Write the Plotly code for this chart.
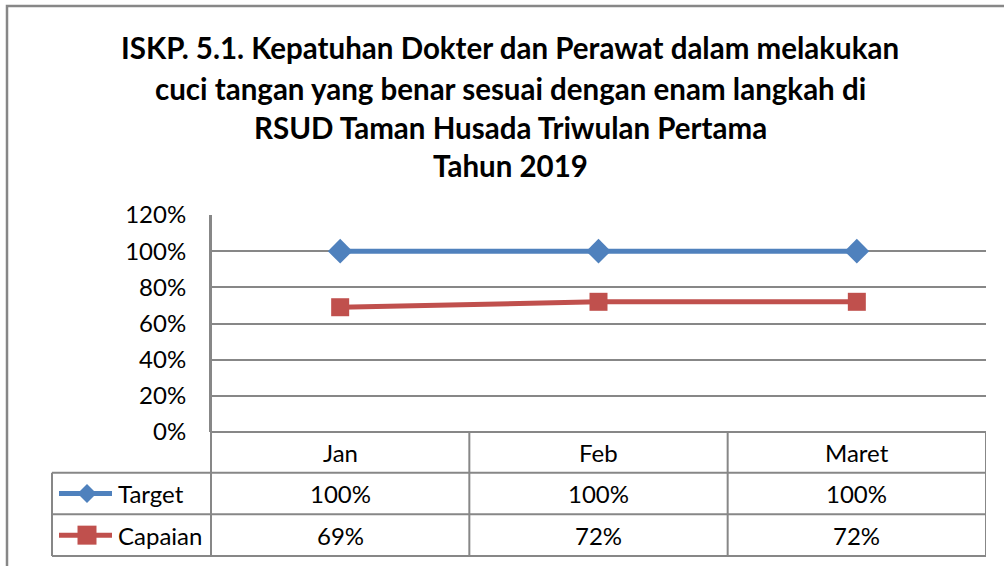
import plotly.graph_objects as go

# ---------------- data ----------------
categories = ["Jan", "Feb", "Maret"]
target = [100, 100, 100]
capaian = [69, 72, 72]
series_names = ["Target", "Capaian"]
y_ticks = [0, 20, 40, 60, 80, 100, 120]
title_lines = [
    "ISKP. 5.1. Kepatuhan Dokter dan Perawat dalam melakukan",
    "cuci tangan yang benar sesuai dengan enam langkah di",
    "RSUD Taman Husada Triwulan Pertama",
    "Tahun 2019",
]

# ---------------- layout geometry (pixels) ----------------
W, H = 1004, 566
L, R, T, B = 211, 986, 215, 432
FONT = "Lato"
GRID = "#878787"
BLUE = "#4F81BD"
RED = "#C0504D"
TXT = 24


def xp(px):
    return (px - L) / (R - L)


def yp(py):
    return (B - py) / (B - T)


fig = go.Figure()
fig.add_trace(go.Scatter(
    x=list(range(len(categories))), y=target, name=series_names[0],
    mode="lines+markers", line=dict(color=BLUE, width=5),
    marker=dict(symbol="diamond", size=19, color=BLUE), showlegend=False))
fig.add_trace(go.Scatter(
    x=list(range(len(categories))), y=capaian, name=series_names[1],
    mode="lines+markers", line=dict(color=RED, width=5),
    marker=dict(symbol="square", size=18, color=RED), showlegend=False))

shapes = []
annotations = []

# outer chart border
shapes.append(dict(type="rect", xref="paper", yref="paper",
                   x0=xp(7), x1=xp(1012), y0=yp(6), y1=yp(580),
                   line=dict(color=GRID, width=2.5), layer="below"))

# data table lines
row_lines = [472.7, 514.3, 556]
for ry in row_lines:
    shapes.append(dict(type="line", xref="paper", yref="paper",
                       x0=xp(52), x1=1, y0=yp(ry), y1=yp(ry),
                       line=dict(color=GRID, width=2)))
shapes.append(dict(type="line", xref="paper", yref="paper",
                   x0=0, x1=1, y0=0, y1=0, line=dict(color=GRID, width=2)))
# vertical lines
shapes.append(dict(type="line", xref="paper", yref="paper",
                   x0=xp(52), x1=xp(52), y0=yp(472.7), y1=yp(556),
                   line=dict(color=GRID, width=2)))
shapes.append(dict(type="line", xref="paper", yref="paper",
                   x0=0, x1=0, y0=1, y1=yp(556),
                   line=dict(color=GRID, width=2)))
for i in range(1, len(categories) + 1):
    xb = i - 0.5
    shapes.append(dict(type="line", xref="x", yref="paper",
                       x0=xb, x1=xb, y0=0, y1=yp(556),
                       line=dict(color=GRID, width=2)))

# table texts
cat_row_y = yp((432 + 472.7) / 2)
row_ys = [yp((472.7 + 514.3) / 2), yp((514.3 + 556) / 2)]
for i, c in enumerate(categories):
    annotations.append(dict(x=i, y=cat_row_y, xref="x", yref="paper", text=c,
                            xanchor="center", yanchor="middle",
                            showarrow=False, font=dict(family=FONT, size=TXT, color="black")))
for vals, ry in zip([target, capaian], row_ys):
    for i, v in enumerate(vals):
        annotations.append(dict(x=i, y=ry, xref="x", yref="paper", text=f"{v}%",
                                xanchor="center", yanchor="middle",
                                showarrow=False, font=dict(family=FONT, size=TXT, color="black")))

# legend keys inside table
colors = [BLUE, RED]
for name, col, ry, kind in zip(series_names, colors, row_ys, ["diamond", "square"]):
    shapes.append(dict(type="line", xref="paper", yref="paper",
                       x0=xp(59), x1=xp(112), y0=ry, y1=ry,
                       line=dict(color=col, width=5)))
    cx = xp(87)
    d = 9.5
    dy = d / (B - T)
    if kind == "diamond":
        path = (f"M {xp(87 - d)} {ry} L {cx} {ry + dy} "
                f"L {xp(87 + d)} {ry} L {cx} {ry - dy} Z")
    else:
        path = (f"M {xp(87 - d)} {ry - dy} L {xp(87 + d)} {ry - dy} "
                f"L {xp(87 + d)} {ry + dy} L {xp(87 - d)} {ry + dy} Z")
    shapes.append(dict(type="path", xref="paper", yref="paper", path=path,
                       fillcolor=col, line=dict(color=col, width=0)))
    annotations.append(dict(x=xp(116), y=ry, xref="paper", yref="paper", text=name,
                            xanchor="left", yanchor="middle", showarrow=False,
                            font=dict(family=FONT, size=TXT, color="black")))

# title lines
for line, cy in zip(title_lines, [48, 88, 127, 165]):
    annotations.append(dict(x=xp(510), y=yp(cy), xref="paper", yref="paper",
                            text=f"<b>{line}</b>", showarrow=False,
                            xanchor="center", yanchor="middle",
                            font=dict(family=FONT, size=29.5, color="black")))

fig.update_layout(
    width=W, height=H,
    margin=dict(l=L, r=W - R, t=T, b=H - B, pad=0),
    paper_bgcolor="white", plot_bgcolor="white",
    shapes=shapes, annotations=annotations,
    xaxis=dict(range=[-0.5, len(categories) - 0.5], showticklabels=False,
               showgrid=False, zeroline=False, showline=False, fixedrange=True),
    yaxis=dict(range=[0, 120], tickvals=y_ticks, ticktext=[f"{t}%" for t in y_ticks],
               showgrid=True, gridcolor=GRID, gridwidth=2, zeroline=False,
               showline=True, linecolor=GRID, linewidth=2,
               ticks="outside", ticklen=18, tickcolor="rgba(0,0,0,0)",
               tickfont=dict(family=FONT, size=TXT, color="black"), fixedrange=True),
)

fig.write_html("out.html", config={"displayModeBar": False},
               post_script="document.body.style.margin='0';document.body.style.overflow='hidden';")
